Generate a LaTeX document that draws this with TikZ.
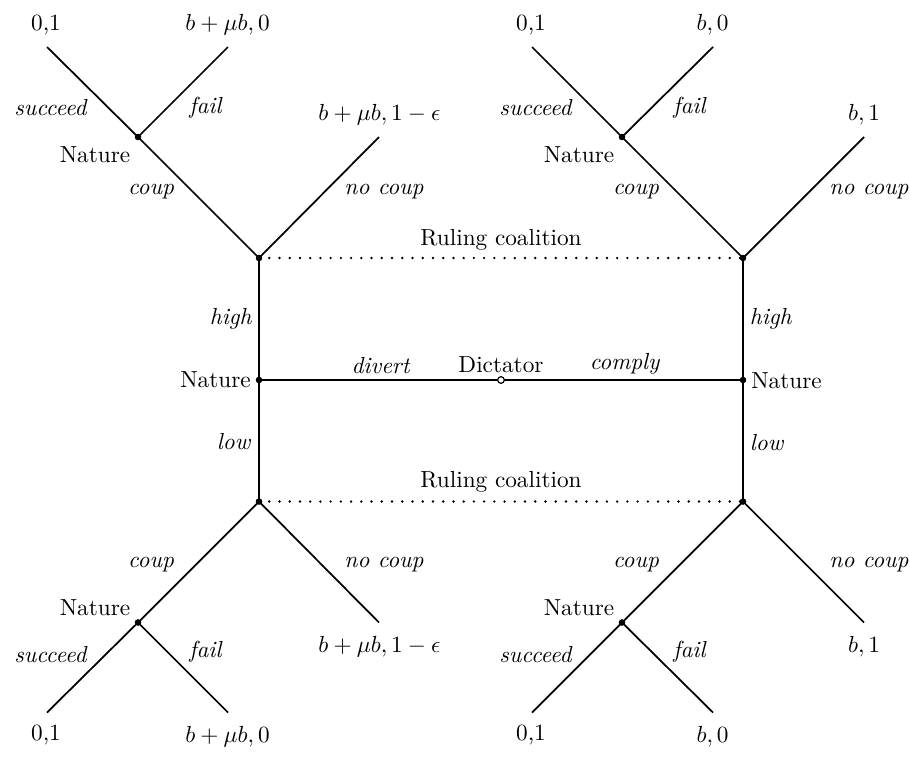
\documentclass[tikz,border=0pt]{standalone}
\begin{document}
\begin{tikzpicture}[x=0.43pt,y=-0.43pt,
  edge/.style={line width=0.75pt},
  info/.style={line width=1.15pt,line cap=round,dash pattern=on 0pt off 4.4pt},
  dec/.style={circle,fill=black,inner sep=0pt,minimum size=2.7pt},
  dic/.style={circle,draw=black,fill=white,line width=0.45pt,inner sep=0pt,minimum size=2.8pt},
  lab/.style={inner sep=0pt,anchor=center}]
\useasboundingbox (0,0) rectangle (909,782);
% decision nodes
\node[dec] (RL1) at (259,258) {};
\node[dec] (RR1) at (743,258) {};
\node[dec] (NL) at (259,380) {};
\node[dec] (NR) at (743,380) {};
\node[dic] (D) at (501,380) {};
\node[dec] (RL2) at (259,501.5) {};
\node[dec] (RR2) at (743,501.5) {};
\node[dec] (TLN) at (138,137) {};
\node[dec] (TRN) at (622,137) {};
\node[dec] (BLN) at (138,622.5) {};
\node[dec] (BRN) at (622,622.5) {};
% leaves
\coordinate (TL1) at (47,47);
\coordinate (TL2) at (228,47);
\coordinate (TL3) at (379,137);
\coordinate (TR1) at (532,47);
\coordinate (TR2) at (713,47);
\coordinate (TR3) at (864,137);
\coordinate (BL1) at (47,712.5);
\coordinate (BL2) at (228,712.5);
\coordinate (BL3) at (379,622.5);
\coordinate (BR1) at (532,712.5);
\coordinate (BR2) at (713,712.5);
\coordinate (BR3) at (864,622.5);
% edges
\draw[edge] (D.center) -- (NL.center);
\draw[edge] (D.center) -- (NR.center);
\draw[edge] (NL.center) -- (RL1.center);
\draw[edge] (NL.center) -- (RL2.center);
\draw[edge] (NR.center) -- (RR1.center);
\draw[edge] (NR.center) -- (RR2.center);
\draw[edge] (RL1.center) -- (TLN.center);
\draw[edge] (RL1.center) -- (TL3);
\draw[edge] (TLN.center) -- (TL1);
\draw[edge] (TLN.center) -- (TL2);
\draw[edge] (RR1.center) -- (TRN.center);
\draw[edge] (RR1.center) -- (TR3);
\draw[edge] (TRN.center) -- (TR1);
\draw[edge] (TRN.center) -- (TR2);
\draw[edge] (RL2.center) -- (BLN.center);
\draw[edge] (RL2.center) -- (BL3);
\draw[edge] (BLN.center) -- (BL1);
\draw[edge] (BLN.center) -- (BL2);
\draw[edge] (RR2.center) -- (BRN.center);
\draw[edge] (RR2.center) -- (BR3);
\draw[edge] (BRN.center) -- (BR1);
\draw[edge] (BRN.center) -- (BR2);
% information sets
\draw[info] (RL1.center) -- (RR1.center);
\draw[info] (RL2.center) -- (RR2.center);
% redraw nodes on top
\foreach \n in {RL1,RR1,NL,NR,RL2,RR2,TLN,TRN,BLN,BRN} {\node[dec] at (\n) {};}
\node[dic] at (D) {};
% player labels
\node[lab] (lD) at (501,365) {Dictator};
\node[lab] (lNL) at (215.5,380) {Nature};
\node[lab] (lNR) at (786.5,381) {Nature};
\node[lab] (lRC1) at (501,240) {Ruling coalition};
\node[lab] (lRC2) at (501,481.5) {Ruling coalition};
\node[lab] (lTLN) at (95,155) {Nature};
\node[lab] (lTRN) at (579,155) {Nature};
\node[lab] (lBLN) at (95,608) {Nature};
\node[lab] (lBRN) at (579,608) {Nature};
% action labels middle
\node[lab] (adiv) at (381,366) {\textit{divert}};
\node[lab] (acom) at (625,364) {\textit{comply}};
\node[lab] (ahL) at (231,318.5) {\textit{high}};
\node[lab] (alL) at (234,442) {\textit{low}};
\node[lab] (ahR) at (771,319) {\textit{high}};
\node[lab] (alR) at (767,442.5) {\textit{low}};
% top-left tree labels
\node[lab] at (151,192) {\textit{coup}};
\node[lab] at (384,192) {\textit{no coup}};
\node[lab] at (51,108) {\textit{succeed}};
\node[lab] at (206,108) {\textit{fail}};
\node[lab] at (46,25) {0,1};
\node[lab] at (227.5,25) {$b+\mu b,0$};
\node[lab] at (379.5,115) {$b+\mu b,1-\epsilon$};
% top-right tree labels
\node[lab] at (636,192) {\textit{coup}};
\node[lab] at (869,192) {\textit{no coup}};
\node[lab] at (536,108) {\textit{succeed}};
\node[lab] at (690,108) {\textit{fail}};
\node[lab] at (531,25) {0,1};
\node[lab] at (712.5,25) {$b,0$};
\node[lab] at (864,115) {$b,1$};
% bottom-left tree labels
\node[lab] at (151,564.5) {\textit{coup}};
\node[lab] at (384,564.5) {\textit{no coup}};
\node[lab] at (51,655) {\textit{succeed}};
\node[lab] at (206,652) {\textit{fail}};
\node[lab] at (46,735) {0,1};
\node[lab] at (227.5,736.5) {$b+\mu b,0$};
\node[lab] at (379.5,646.5) {$b+\mu b,1-\epsilon$};
% bottom-right tree labels
\node[lab] at (636,564.5) {\textit{coup}};
\node[lab] at (869,564.5) {\textit{no coup}};
\node[lab] at (536,655) {\textit{succeed}};
\node[lab] at (690,652) {\textit{fail}};
\node[lab] at (531,735) {0,1};
\node[lab] at (712.5,736.5) {$b,0$};
\node[lab] at (864,646.5) {$b,1$};
\end{tikzpicture}
\end{document}
